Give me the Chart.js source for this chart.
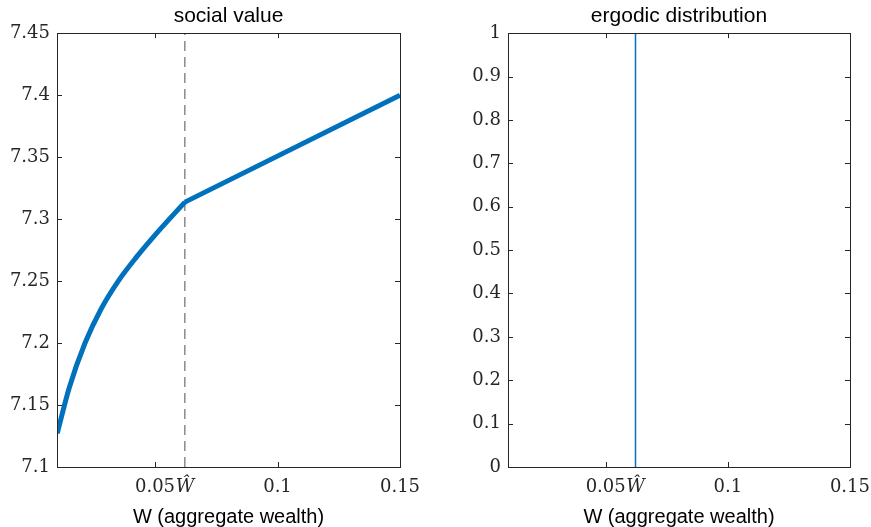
<!DOCTYPE html>
<html>
<head>
<meta charset="utf-8">
<script src="https://cdn.jsdelivr.net/npm/chart.js@4"></script>
<style>
  body { margin: 0; background: #fff; }
  #wrap { position: relative; width: 871px; height: 527px; overflow: hidden; }
  canvas { position: absolute; top: 0; }
</style>
</head>
<body>
<div id="wrap">
  <canvas id="left" width="435" height="527" style="left:0"></canvas>
  <canvas id="right" width="429" height="527" style="left:451px"></canvas>
</div>
<script>
// data
var wHat = 0.0622;
var wealthLow = [0.0101, 0.015, 0.0214, 0.028, 0.035, 0.0425, 0.0507, 0.0622];
var valueLow = [7.1272, 7.164, 7.1998, 7.2275, 7.25, 7.2695, 7.2887, 7.3137];
var wealthHigh = [0.0622, 0.15];
var valueHigh = [7.3137, 7.40];
var xTicks = [0.05, wHat, 0.1, 0.15];
var ergodicY = [0, 1];

var blue = '#0072BD';
var axisCol = '#262626';
var serif = '"DejaVu Serif", serif';
var sans = '"Liberation Sans", sans-serif';

function pts(xs, ys) { return xs.map(function(x, i) { return { x: x, y: ys[i] }; }); }

// MATLAB style box with inward ticks (the W-hat tick is covered by its own line)
var boxTicks = {
  id: 'boxTicks',
  beforeDatasetsDraw: function(chart) {
    var ctx = chart.ctx, a = chart.chartArea, x = chart.scales.x, y = chart.scales.y;
    ctx.save();
    ctx.strokeStyle = axisCol;
    ctx.lineWidth = 1;
    ctx.beginPath();
    x.ticks.forEach(function(t) {
      if (t.value === wHat) return;
      var px = Math.round(x.getPixelForValue(t.value)) + 0.5;
      ctx.moveTo(px, a.bottom); ctx.lineTo(px, a.bottom - 5);
      ctx.moveTo(px, a.top); ctx.lineTo(px, a.top + 5);
    });
    y.ticks.forEach(function(t) {
      var py = Math.round(y.getPixelForValue(t.value)) + 0.5;
      ctx.moveTo(a.left, py); ctx.lineTo(a.left + 5, py);
      ctx.moveTo(a.right, py); ctx.lineTo(a.right - 5, py);
    });
    ctx.stroke();
    ctx.restore();
  },
  afterDatasetsDraw: function(chart) {
    var ctx = chart.ctx, a = chart.chartArea;
    ctx.save();
    ctx.strokeStyle = axisCol;
    ctx.lineWidth = 1;
    ctx.strokeRect(Math.round(a.left) + 0.5, Math.round(a.top) + 0.5,
                   Math.round(a.right - a.left), Math.round(a.bottom - a.top));
    ctx.restore();
  }
};

function xScale() {
  return {
    type: 'linear', min: 0.01, max: 0.15,
    grid: { display: false, drawTicks: false }, border: { display: false },
    afterBuildTicks: function(s) { s.ticks = xTicks.map(function(v) { return { value: v }; }); },
    afterFit: function(s) { s.height = 60; },
    ticks: {
      autoSkip: false, maxRotation: 0, padding: 10, color: axisCol,
      font: function(c) {
        return c.tick && c.tick.value === wHat
          ? { family: serif, size: 18, style: 'italic' }
          : { family: serif, size: 18 };
      },
      callback: function(v) { return v === wHat ? 'Ŵ' : String(v); }
    },
    title: { display: true, text: 'W (aggregate wealth)', color: '#000',
             font: { family: sans, size: 20, lineHeight: 1 }, padding: { top: 0, bottom: 0 } }
  };
}

function yScale(min, max, step) {
  return {
    min: min, max: max,
    grid: { display: false, drawTicks: false }, border: { display: false },
    afterFit: function(s) { s.width = 57; },
    ticks: { stepSize: step, padding: 7, color: axisCol, font: { family: serif, size: 18 },
             callback: function(v) { return String(Math.round(v * 100) / 100); } }
  };
}

function titleOpts(text) {
  return { display: true, fullSize: false, text: text, color: '#000',
           font: { family: sans, size: 21, weight: 'normal', lineHeight: 1.2 }, padding: { top: 4, bottom: 4 } };
}

new Chart(document.getElementById('left').getContext('2d'), {
  type: 'line',
  data: {
    datasets: [{
      data: pts(wealthLow, valueLow),
      borderColor: blue, borderWidth: 5, pointRadius: 0, cubicInterpolationMode: 'monotone', fill: false
    }, {
      data: pts(wealthHigh, valueHigh),
      borderColor: blue, borderWidth: 5, pointRadius: 0, tension: 0, fill: false
    }, {
      data: [{ x: wHat, y: 7.1 }, { x: wHat, y: 7.45 }],
      borderColor: '#4d4d4d', borderWidth: 1, borderDash: [10, 6], pointRadius: 0
    }]
  },
  options: {
    responsive: false, animation: false,
    layout: { padding: { left: 0, right: 35, bottom: 0 } },
    plugins: { legend: { display: false }, tooltip: { enabled: false }, title: titleOpts('social value') },
    scales: { x: xScale(), y: yScale(7.1, 7.45, 0.05) }
  },
  plugins: [boxTicks]
});

new Chart(document.getElementById('right').getContext('2d'), {
  type: 'line',
  data: {
    datasets: [{
      data: ergodicY.map(function(v) { return { x: wHat, y: v }; }),
      borderColor: blue, borderWidth: 1.5, pointRadius: 0
    }]
  },
  options: {
    responsive: false, animation: false,
    layout: { padding: { left: 0, right: 21, bottom: 0 } },
    plugins: { legend: { display: false }, tooltip: { enabled: false }, title: titleOpts('ergodic distribution') },
    scales: { x: xScale(), y: yScale(0, 1, 0.1) }
  },
  plugins: [boxTicks]
});
</script>
</body>
</html>
